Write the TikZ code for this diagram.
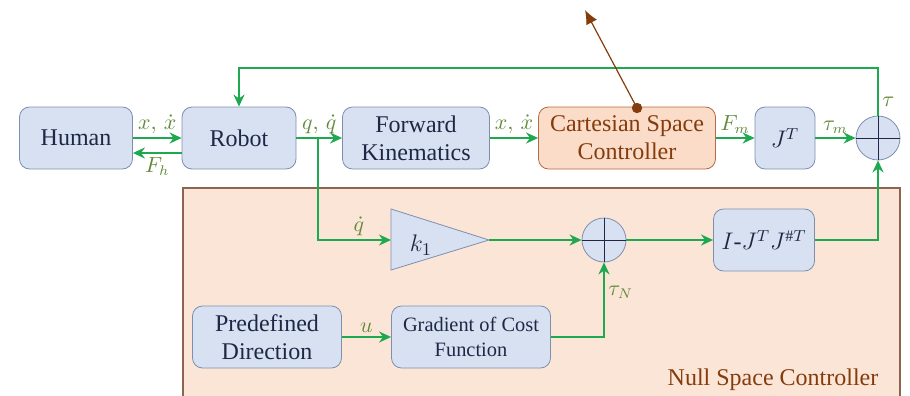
\documentclass[tikz,border=0pt]{standalone}
\usepackage{amsmath}
\usepackage{fontspec}
\setmainfont{Liberation Serif}
\usetikzlibrary{calc, arrows.meta}
\definecolor{sigcol}{RGB}{30,168,80}
\definecolor{lblcol}{RGB}{98,138,58}
\definecolor{blkfill}{RGB}{215,225,242}
\definecolor{blkedge}{RGB}{125,143,175}
\definecolor{blktext}{RGB}{30,40,70}
\definecolor{ctrlfill}{RGB}{250,220,200}
\definecolor{ctrledge}{RGB}{176,108,66}
\definecolor{ctrltext}{RGB}{132,60,12}
\definecolor{nsfill}{RGB}{251,229,215}
\definecolor{nsedge}{RGB}{140,100,80}
\tikzstyle{blk}=[draw=blkedge, fill=blkfill, rounded corners=5pt, minimum height=31pt, text=blktext, align=center, font=\fontsize{12}{14}\selectfont]
\tikzstyle{ctrl}=[blk, draw=ctrledge, fill=ctrlfill, text=ctrltext]
\tikzstyle{sum}=[draw=blkedge, fill=blkfill, circle, minimum size=22pt, inner sep=0pt]
\tikzstyle{sig}=[draw=sigcol, line width=1.4pt]
\tikzstyle{lbl}=[text=lblcol, inner sep=1.5pt, font=\fontsize{10.5}{12}\selectfont]

\begin{document}
\begin{tikzpicture}[x=0.5pt,y=-0.5pt,>={Stealth[length=6pt,width=5.5pt]}]
    \useasboundingbox (0,0) rectangle (910,396);
    % null space region
    \draw[draw=nsedge, fill=nsfill, line width=0.6pt] (183,188) rectangle (900,420);
    \node[text=ctrltext, font=\fontsize{12}{14}\selectfont] (nslabel) at (773,380) {Null Space Controller};

    % main loop
    \node[blk, minimum width=56.5pt] (human) at (76,138) {Human};
    \node[blk, minimum width=57pt] (robot) at (239,138) {Robot};
    \node[blk, minimum width=73.5pt] (fk) at (416,138) {Forward\\Kinematics};
    \node[ctrl, minimum width=88.5pt] (csc) at (627,138) {Cartesian Space\\Controller};
    \node[blk, minimum width=30pt] (jt) at (785,138) {$J^T$};
    \node[sum] (sumtop) at (878,138) {};
    \draw[blktext, line width=0.4pt] (sumtop.north) -- (sumtop.south) (sumtop.west) -- (sumtop.east);

    % null space branch
    \fill[blkfill, draw=blkedge] (391,209) -- (489,240) -- (391,270) -- cycle;
    \coordinate (k1in) at (391,240);
    \coordinate (k1out) at (489,240);
    \node[text=blktext, font=\fontsize{13}{14}\selectfont] (gain) at (421,245) {$k_1$};
    \node[sum] (summid) at (604,240) {};
    \draw[blktext, line width=0.4pt] (summid.north) -- (summid.south) (summid.west) -- (summid.east);
    \node[blk, minimum width=50.5pt] (proj) at (764,240) {$I$-$J^TJ^{\#T}$};
    \node[blk, minimum width=74.5pt] (pre) at (267,337) {Predefined\\Direction};
    \node[blk, minimum width=79.5pt, font=\fontsize{10.2}{12.5}\selectfont] (grad) at (471,337) {Gradient of Cost\\Function};

    \coordinate (qsplit) at (318,138);
    \coordinate (fbtop) at (0,68);

    % signals
    \draw[sig,->] (human.east) -- node[lbl,above]{$x,\,\dot{x}$} (robot.west);
    \draw[sig,->] ([yshift=-7.5pt]robot.west) -- node[lbl,below]{$F_h$} ([yshift=-7.5pt]human.east);
    \draw[sig,->] (robot.east) -- node[lbl,above]{$q,\,\dot{q}$} (fk.west);
    \draw[sig,->] (fk.east) -- node[lbl,above]{$x,\,\dot{x}$} (csc.west);
    \draw[sig,->] (csc.east) -- node[lbl,above]{$F_m$} (jt.west);
    \draw[sig,->] (jt.east) -- node[lbl,above]{$\tau_m$} (sumtop.west);
    \draw[sig,->] (sumtop.north) -- node[lbl,right,pos=0.3]{$\tau$} (sumtop.north |- fbtop) -| (robot.north);
    \draw[sig,->] (qsplit) |- node[lbl,above,pos=0.78]{$\dot{q}$} (k1in);
    \draw[sig,->] (k1out) -- (summid.west);
    \draw[sig,->] (summid.east) -- (proj.west);
    \draw[sig,->] (proj.east) -| (sumtop.south);
    \draw[sig,->] (pre.east) -- node[lbl,above]{$u$} (grad.west);
    \draw[sig,->] (grad.east) -| node[lbl,right,pos=0.8]{$\tau_N$} (summid.south);

    % callouts
    \coordinate (cscpin) at (637,108);
    \coordinate (cscend) at (585,10);
    \draw[ctrltext, line width=0.6pt, -{Latex[length=7pt,width=6pt]}] (cscpin) -- (cscend);
    \fill[ctrltext] (cscpin) circle (2.6pt);
    \fill[ctrltext] (771,401) circle (2.6pt);
\end{tikzpicture}
\end{document}
